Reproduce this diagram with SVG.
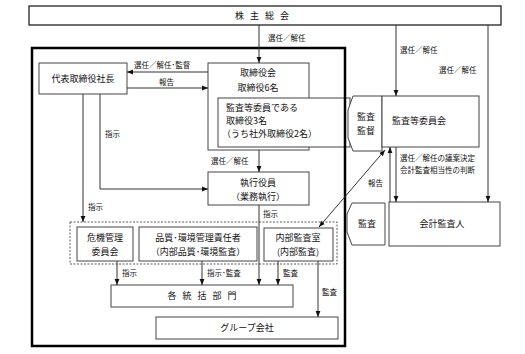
<svg xmlns="http://www.w3.org/2000/svg" width="525" height="354" viewBox="0 0 525 354">
<style>
.b{fill:#fff;stroke:#444;stroke-width:1}
.t{font-family:"Noto Sans CJK JP","Noto Sans",sans-serif;font-size:9px;fill:#111}
.m{text-anchor:middle}
.l{font-family:"Noto Sans CJK JP","Noto Sans",sans-serif;font-size:7.5px;fill:#111}
.c{fill:none;stroke:#333;stroke-width:1}
</style>
<defs>
<marker id="a" viewBox="0 0 10 10" refX="10" refY="5" markerWidth="6" markerHeight="6" markerUnits="userSpaceOnUse" orient="auto-start-reverse"><path d="M0,1 L10,5 L0,9 z" fill="#111"/></marker>
</defs>
<rect width="525" height="354" fill="#fff"/>
<g id="shareholders"><rect class="b" x="29" y="6" width="472" height="19" style="stroke:#222;stroke-width:1.3"/><text class="t m" x="265" y="19" letter-spacing="6">株主総会</text></g>
<g id="board"><rect class="b" x="208" y="63" width="101" height="87"/><text class="t m" x="258" y="76">取締役会</text><text class="t m" x="258" y="91">取締役6名</text></g>
<g id="audit-directors"><rect class="b" x="218" y="98" width="132" height="49"/><text class="t" x="226" y="111">監査等委員である</text><text class="t" x="226" y="124">取締役3名</text><text class="t" x="222" y="137">（うち社外取締役2名）</text></g>
<rect x="32" y="48" width="313" height="298" fill="none" stroke="#000" stroke-width="2.5"/>
<g id="president"><rect class="b" x="39" y="63" width="88" height="31"/><text class="t m" x="83" y="82">代表取締役社長</text></g>
<g id="executives"><rect class="b" x="208" y="172" width="101" height="33"/><text class="t m" x="258" y="186">執行役員</text><text class="t m" x="258" y="200">（業務執行）</text></g>
<g id="internal-group"><rect x="70" y="222" width="267" height="42" fill="none" stroke="#333" stroke-width="0.8" stroke-dasharray="2,1.5"/></g>
<g id="risk"><rect class="b" x="77" y="227" width="56" height="34"/><text class="t m" x="105" y="241">危機管理</text><text class="t m" x="105" y="255">委員会</text></g>
<g id="quality"><rect class="b" x="139" y="227" width="118" height="34"/><text class="t m" x="198" y="241">品質･環境管理責任者</text><text class="t m" x="198" y="255">（内部品質･環境監査）</text></g>
<g id="internal-audit"><rect class="b" x="264" y="228" width="69" height="33"/><text class="t m" x="298" y="241">内部監査室</text><text class="t m" x="298" y="255">(内部監査)</text></g>
<g id="divisions"><rect class="b" x="111" y="285" width="182" height="22"/><text class="t m" x="205" y="299" letter-spacing="6">各統括部門</text></g>
<g id="group-companies"><rect class="b" x="156" y="317" width="182" height="22"/><text class="t m" x="247" y="331">グループ会社</text></g>
<g id="supervise-bracket"><path class="b" d="M353,96 H382 V151 H353 L348,138 V110 Z"/><text class="t m" x="366" y="120">監査</text><text class="t m" x="366" y="134">監督</text></g>
<g id="audit-committee"><rect class="b" x="382" y="96" width="97" height="51"/><text class="t" x="392" y="124">監査等委員会</text></g>
<g id="audit-bracket"><path class="b" d="M352,203 H385 V245 H352 L347,232 V214 Z"/><text class="t m" x="367" y="227">監査</text></g>
<g id="accounting-auditor"><rect class="b" x="389" y="202" width="111" height="44"/><text class="t m" x="442" y="227">会計監査人</text></g>
<g id="connectors" class="c" marker-end="url(#a)">
<path class="c" d="M259,25 V63" marker-end="url(#a)"/>
<path class="c" d="M396,25 V96" marker-end="url(#a)"/>
<path class="c" d="M488,25 V202" marker-end="url(#a)"/>
<path class="c" d="M208,72 H127" marker-end="url(#a)"/>
<path class="c" d="M127,88 H208" marker-end="url(#a)"/>
<path class="c" d="M100,94 V189 H208" marker-end="url(#a)"/>
<path class="c" d="M83,94 V222" marker-end="url(#a)"/>
<path class="c" d="M259,150 V172" marker-end="url(#a)"/>
<path class="c" d="M259,205 V285" marker-end="url(#a)"/>
<path class="c" d="M117,261 V285" marker-end="url(#a)"/>
<path class="c" d="M202,261 V285" marker-end="url(#a)"/>
<path class="c" d="M278,261 V285" marker-end="url(#a)"/>
<path class="c" d="M318,261 V317" marker-end="url(#a)"/>
<path class="c" d="M319,227 L385,150" marker-start="url(#a)" marker-end="url(#a)"/>
<path class="c" d="M390,202 V147" marker-end="url(#a)"/>
<path class="c" d="M396,147 V202" marker-end="url(#a)"/>
</g>
<g id="labels">
<text class="l" x="268" y="41">選任／解任</text>
<text class="l" x="400" y="53">選任／解任</text>
<text class="l" x="439" y="73">選任／解任</text>
<text class="l" x="134" y="68">選任／解任･監督</text>
<text class="l" x="159" y="85">報告</text>
<text class="l" x="105" y="137">指示</text>
<text class="l" x="88" y="210">指示</text>
<text class="l" x="211" y="164">選任／解任</text>
<text class="l" x="263" y="217">指示</text>
<text class="l" x="368" y="186">報告</text>
<text class="l" x="400" y="161">選任／解任の議案決定</text>
<text class="l" x="400" y="173">会計監査相当性の判断</text>
<text class="l" x="122" y="276">指示</text>
<text class="l" x="207" y="276">指示･監査</text>
<text class="l" x="283" y="276">監査</text>
<text class="l" x="322" y="295">監査</text>
</g>
</svg>
